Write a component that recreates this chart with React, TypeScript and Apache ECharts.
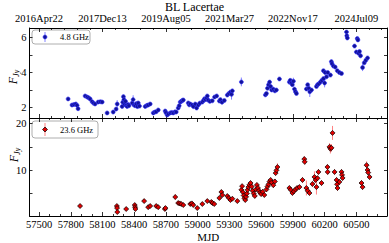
import React, { useEffect, useRef } from "react";
import * as echarts from "echarts";

const FONT = "'Liberation Serif', 'Times New Roman', serif";

// [MJD, flux density (Jy), error]
const band48: [number, number, number][] = [
  [57775, 2.49, 0.06], [57812, 2.14, 0.06], [57830, 2.17, 0.06], [57848, 2.2, 0.06], [57860, 2.12, 0.06], [57869, 1.93, 0.06],
  [57936, 2.66, 0.06], [57955, 2.6, 0.06], [57970, 2.55, 0.06], [57983, 2.49, 0.06], [58002, 2.33, 0.06], [58015, 2.25, 0.06],
  [58030, 2.2, 0.06], [58059, 2.31, 0.06], [58080, 2.33, 0.06], [58097, 2.31, 0.06],
  [58144, 1.69, 0.06], [58201, 1.74, 0.06], [58229, 1.91, 0.08], [58239, 2.2, 0.22],
  [58286, 2.06, 0.06], [58292, 2.3, 0.08], [58298, 2.62, 0.1], [58303, 2.45, 0.08], [58310, 2.17, 0.06], [58318, 2.35, 0.06],
  [58325, 2.12, 0.06], [58333, 2.06, 0.06], [58343, 2.17, 0.06], [58350, 2.1, 0.06],
  [58381, 2.26, 0.06], [58390, 2.45, 0.25], [58398, 2.14, 0.06], [58409, 2.1, 0.06], [58420, 2.22, 0.06], [58430, 2.05, 0.06],
  [58438, 2.26, 0.06], [58450, 2.08, 0.06],
  [58504, 2.06, 0.06], [58520, 2.12, 0.06], [58532, 2.14, 0.06], [58551, 2.2, 0.06],
  [58580, 1.69, 0.06], [58595, 1.74, 0.06], [58608, 1.76, 0.06], [58627, 1.86, 0.06],
  [58693, 1.8, 0.06], [58700, 1.7, 0.06], [58712, 1.57, 0.06], [58722, 1.63, 0.06], [58741, 1.69, 0.06], [58755, 1.72, 0.06],
  [58769, 1.69, 0.06], [58785, 1.75, 0.06], [58797, 1.74, 0.06], [58816, 1.97, 0.06], [58825, 2.1, 0.06], [58835, 2.31, 0.06],
  [58845, 2.35, 0.06], [58854, 2.4, 0.06], [58864, 2.43, 0.06],
  [58911, 2.26, 0.06], [58920, 2.15, 0.06], [58930, 2.2, 0.06], [58949, 2.14, 0.06], [58960, 2.05, 0.06], [58977, 2.2, 0.06],
  [58990, 1.97, 0.06], [59006, 2.14, 0.06], [59020, 2.25, 0.06],
  [59044, 2.31, 0.06], [59055, 2.4, 0.06], [59065, 2.5, 0.06], [59075, 2.45, 0.06], [59085, 2.55, 0.06], [59091, 2.66, 0.06],
  [59100, 2.42, 0.06], [59115, 2.35, 0.06], [59138, 2.38, 0.06], [59160, 2.6, 0.06], [59180, 2.66, 0.06],
  [59205, 2.37, 0.06], [59215, 2.45, 0.06], [59230, 2.3, 0.06], [59252, 2.4, 0.06],
  [59280, 2.71, 0.06], [59295, 2.8, 0.06], [59310, 2.88, 0.06], [59320, 2.75, 0.3], [59328, 2.95, 0.06],
  [59413, 3.46, 0.25],
  [59640, 2.72, 0.06], [59650, 2.8, 0.06], [59660, 3.1, 0.06], [59670, 3.3, 0.06], [59680, 3.45, 0.06], [59690, 3.2, 0.06],
  [59700, 3.0, 0.06], [59715, 3.05, 0.06], [59730, 2.95, 0.06], [59744, 3.0, 0.06], [59773, 3.63, 0.08],
  [59867, 3.45, 0.08], [59875, 3.55, 0.08], [59885, 3.4, 0.08], [59895, 3.3, 0.08], [59905, 3.5, 0.2], [59915, 3.05, 0.08],
  [59925, 2.9, 0.08], [59934, 2.8, 0.08],
  [60028, 3.06, 0.08], [60040, 3.3, 0.08], [60050, 3.1, 0.08], [60060, 2.9, 0.3], [60076, 3.0, 0.08],
  [60123, 3.2, 0.08], [60133, 3.3, 0.08], [60145, 3.35, 0.08], [60160, 3.45, 0.08], [60175, 3.55, 0.08], [60190, 3.65, 0.08],
  [60200, 3.4, 0.25], [60218, 3.75, 0.08], [60189, 4.1, 0.08], [60205, 4.0, 0.08], [60230, 4.0, 0.08], [60255, 3.85, 0.08],
  [60264, 4.62, 0.1], [60270, 4.5, 0.08], [60283, 4.37, 0.08], [60300, 4.31, 0.08], [60320, 4.1, 0.08], [60340, 4.0, 0.08],
  [60360, 3.94, 0.08],
  [60407, 6.31, 0.1], [60410, 6.1, 0.1], [60415, 5.97, 0.1],
  [60483, 5.51, 0.1], [60500, 5.17, 0.1], [60509, 5.94, 0.1], [60515, 5.86, 0.1], [60521, 5.1, 0.1], [60530, 5.2, 0.1],
  [60540, 4.95, 0.1], [60559, 4.28, 0.2], [60575, 4.55, 0.1], [60590, 4.7, 0.1], [60606, 4.83, 0.1],
];

const band236: [number, number, number][] = [
  [57888, 2.34, 0.4],
  [58236, 2.34, 0.4], [58238, 1.9, 0.4], [58240, 1.05, 0.4], [58324, 1.7, 0.4],
  [58405, 2.55, 0.4], [58408, 2.1, 0.4], [58411, 1.7, 0.4], [58494, 3.4, 0.4],
  [58532, 2.1, 0.4], [58551, 2.34, 0.4], [58608, 2.34, 0.4], [58627, 2.1, 0.4], [58690, 1.7, 0.4], [58695, 1.9, 0.4],
  [58788, 4.27, 0.6], [58816, 2.98, 0.4], [58830, 2.9, 0.4], [58845, 2.77, 0.4], [58864, 2.55, 0.4],
  [58930, 2.77, 0.4], [58945, 2.9, 0.4], [58958, 2.55, 0.4], [58996, 1.9, 0.4],
  [59044, 2.77, 0.4], [59091, 3.4, 0.4], [59129, 3.2, 0.4], [59140, 2.98, 0.4], [59157, 2.77, 0.4],
  [59205, 4.06, 0.4], [59224, 5.34, 0.5], [59233, 4.7, 0.4],
  [59280, 4.48, 0.4], [59295, 4.06, 0.4], [59310, 3.63, 0.4], [59328, 3.9, 0.4], [59375, 3.4, 0.4],
  [59413, 5.8, 0.5], [59420, 6.6, 0.5], [59428, 5.3, 0.5], [59435, 4.6, 0.5], [59442, 4.0, 0.5], [59450, 3.63, 0.5],
  [59458, 4.3, 0.5], [59465, 5.0, 0.5], [59472, 5.8, 0.5], [59480, 6.4, 0.5], [59490, 6.9, 0.5], [59500, 7.27, 0.5],
  [59510, 6.5, 0.5], [59520, 5.6, 1.2], [59530, 5.0, 0.5], [59540, 4.5, 0.5], [59550, 5.9, 0.5], [59560, 6.85, 0.5],
  [59570, 6.2, 0.5], [59580, 5.6, 0.5], [59590, 5.2, 0.5], [59600, 4.9, 0.5], [59615, 5.4, 0.5], [59630, 4.7, 0.5],
  [59650, 5.9, 0.5], [59660, 6.5, 0.5], [59670, 7.0, 0.5], [59680, 7.6, 0.5], [59690, 7.92, 0.5], [59700, 7.4, 0.5],
  [59715, 6.8, 0.5], [59730, 7.6, 0.5], [59737, 9.4, 0.5], [59745, 10.0, 0.6], [59754, 10.7, 0.8],
  [59867, 6.2, 0.5], [59880, 5.8, 0.5], [59896, 5.13, 0.5], [59910, 5.5, 0.5], [59925, 5.9, 0.5], [59940, 6.2, 0.5],
  [59962, 6.4, 0.5], [59991, 7.92, 0.6], [60008, 12.4, 0.6], [60012, 11.8, 0.6],
  [60028, 6.2, 1.6], [60040, 5.6, 0.5], [60057, 5.13, 0.5],
  [60085, 7.06, 0.6], [60104, 8.56, 1.2], [60115, 7.92, 0.6], [60123, 6.4, 1.6], [60133, 8.3, 0.6], [60142, 9.64, 0.6],
  [60171, 7.27, 0.6], [60227, 10.7, 0.6], [60229, 9.64, 0.6],
  [60246, 15.0, 0.8], [60255, 14.6, 1.0], [60265, 14.8, 0.8], [60275, 18.0, 1.5],
  [60294, 9.64, 0.6], [60313, 7.92, 0.6], [60318, 7.0, 0.6], [60322, 6.2, 0.6], [60340, 7.5, 0.6],
  [60360, 9.64, 0.6], [60365, 9.0, 0.6], [60370, 8.35, 0.6],
  [60549, 7.27, 0.6], [60559, 6.4, 0.6], [60597, 11.1, 0.8], [60606, 10.06, 0.6], [60612, 9.5, 0.6], [60625, 8.56, 0.6],
];

const dateTickMjd = [57500, 58100, 58700, 59300, 59900, 60500];
const dateTickLabels = ["2016Apr22", "2017Dec13", "2019Aug05", "2021Mar27", "2022Nov17", "2024Jul09"];
const mjdTicks = [57500, 57800, 58100, 58400, 58700, 59000, 59300, 59600, 59900, 60200, 60500];
const topYTicks = [2, 3, 4, 5, 6];
const topYLabels = [2, 4, 6];
const botYTicks = [5, 10, 15, 20];
const botYLabels = [10, 20];

const X_MIN = 57410;
const X_MAX = 60790;

function stepTicks(start: number, step: number, exclude: number[]) {
  const out: number[] = [];
  let v = start;
  while (v - step >= X_MIN) v -= step;
  for (; v <= X_MAX; v += step) if (!exclude.includes(v)) out.push(v);
  return out;
}

const dateMinor = stepTicks(57500, 120, dateTickMjd);
const mjdMinor = stepTicks(57500, 100, mjdTicks);

const tickStyle = { color: "#000", width: 0.8 };

function xAxis(gridIndex: number, position: string, ticks: number[], len: number, showLine: boolean, label?: any, extra?: any) {
  return {
    type: "value",
    gridIndex,
    position,
    min: X_MIN,
    max: X_MAX,
    axisLine: { show: showLine, onZero: false, lineStyle: { color: "#000", width: 1 } },
    axisTick: { show: true, inside: true, length: len, customValues: ticks, lineStyle: tickStyle },
    axisLabel: label || { show: false },
    splitLine: { show: false },
    ...(extra || {}),
  };
}

function yAxis(gridIndex: number, position: string, min: number, max: number, ticks: number[], label?: any) {
  return {
    type: "value",
    gridIndex,
    position,
    min,
    max,
    axisLine: { show: true, onZero: false, lineStyle: { color: "#000", width: 1 } },
    axisTick: { show: true, inside: true, length: 3, customValues: ticks, lineStyle: tickStyle },
    axisLabel: label || { show: false },
    splitLine: { show: false },
  };
}

const yNameRich = {
  i: { fontFamily: FONT, fontStyle: "italic", fontSize: 12, fill: "#000", lineHeight: 14, verticalAlign: "middle" },
  s: { fontFamily: FONT, fontStyle: "italic", fontSize: 8, fill: "#000", lineHeight: 14, verticalAlign: "bottom", padding: [6, 0, 0, 0] },
};

function yNameText(x: number, y: number) {
  return {
    type: "text",
    x,
    y,
    rotation: Math.PI / 2,
    style: { text: "{i|F}{s|Jy}", rich: yNameRich, align: "center", verticalAlign: "middle", fill: "#000" },
  };
}

function errRender(color: string) {
  return (params: any, api: any) => {
    const x = api.value(0);
    const y = api.value(1);
    const e = api.value(2);
    const p1 = api.coord([x, y - e]);
    const p2 = api.coord([x, y + e]);
    return {
      type: "line",
      shape: { x1: p1[0], y1: p1[1], x2: p2[0], y2: p2[1] },
      style: { stroke: color, lineWidth: 0.9 },
    };
  };
}

export default function App() {
  const ref = useRef<HTMLDivElement>(null);
  useEffect(() => {
    if (!ref.current) return;
    const chart = echarts.init(ref.current, undefined, { renderer: "svg" });
    const labelStyle = { fontFamily: FONT, fontSize: 10.5, color: "#000" };
    chart.setOption({
      animation: false,
      backgroundColor: "#fff",
      title: {
        text: "BL Lacertae",
        left: "center",
        top: 1,
        padding: 0,
        textStyle: { fontFamily: FONT, fontSize: 12, fontWeight: "normal", color: "#000" },
      },
      grid: [
        { left: 29.5, right: 2, top: 28, height: 90, outerBoundsMode: "none", containLabel: false },
        { left: 29.5, right: 2, top: 118, height: 98, outerBoundsMode: "none", containLabel: false },
      ],
      xAxis: [
        xAxis(0, "bottom", dateTickMjd, 4, true),
        xAxis(0, "bottom", dateMinor, 2, false),
        xAxis(0, "top", dateTickMjd, 4, true, {
          show: true,
          customValues: dateTickMjd,
          margin: 4,
          ...labelStyle,
          formatter: (v: number) => dateTickLabels[dateTickMjd.indexOf(v)] || "",
        }),
        xAxis(0, "top", dateMinor, 2, false),
        xAxis(1, "bottom", mjdTicks, 4, true, {
          show: true,
          customValues: mjdTicks,
          margin: 3,
          ...labelStyle,
          formatter: (v: number) => String(v),
        }, {
          name: "MJD",
          nameLocation: "middle",
          nameGap: 15,
          nameTextStyle: { fontFamily: FONT, fontSize: 11, color: "#000" },
        }),
        xAxis(1, "bottom", mjdMinor, 2, false),
        xAxis(1, "top", mjdTicks, 4, true),
        xAxis(1, "top", mjdMinor, 2, false),
      ],
      yAxis: [
        yAxis(0, "left", 1.4, 6.54, topYTicks, {
          show: true, customValues: topYLabels, margin: 3, ...labelStyle, hideOverlap: false,
        }),
        yAxis(0, "right", 1.4, 6.54, topYTicks),
        yAxis(1, "left", 0.2, 21.2, botYTicks, {
          show: true, customValues: botYLabels, margin: 3, ...labelStyle, hideOverlap: false,
        }),
        yAxis(1, "right", 0.2, 21.2, botYTicks),
      ],
      series: [
        {
          type: "custom",
          name: "4.8 GHz err",
          xAxisIndex: 0,
          yAxisIndex: 0,
          data: band48,
          encode: { x: 0, y: 1 },
          renderItem: errRender("rgba(70,70,255,0.75)"),
          clip: true,
          z: 2,
        },
        {
          type: "scatter",
          name: "4.8 GHz",
          xAxisIndex: 0,
          yAxisIndex: 0,
          data: band48.map((d) => [d[0], d[1]]),
          symbol: "circle",
          symbolSize: 4,
          itemStyle: { color: "#12129a", borderColor: "#3a3aff", borderWidth: 0.6, opacity: 1 },
          clip: true,
          z: 3,
        },
        {
          type: "custom",
          name: "23.6 GHz err",
          xAxisIndex: 4,
          yAxisIndex: 2,
          data: band236,
          encode: { x: 0, y: 1 },
          renderItem: errRender("rgba(255,90,90,0.85)"),
          clip: true,
          z: 2,
        },
        {
          type: "scatter",
          name: "23.6 GHz",
          xAxisIndex: 4,
          yAxisIndex: 2,
          data: band236.map((d) => [d[0], d[1]]),
          symbol: "diamond",
          symbolSize: 5,
          itemStyle: { color: "#e00000", borderColor: "#000", borderWidth: 0.7, opacity: 1 },
          clip: true,
          z: 3,
        },
      ],
      graphic: [
        yNameText(13, 77),
        yNameText(14, 155),
        {
          type: "group",
          x: 32,
          y: 30,
          children: [
            { type: "rect", shape: { x: 0, y: 0, width: 58, height: 14, r: 3 }, style: { fill: "#fff", stroke: "#999", lineWidth: 0.8 } },
            { type: "line", shape: { x1: 13, y1: 2, x2: 13, y2: 12 }, style: { stroke: "rgba(70,70,255,0.75)", lineWidth: 0.9 } },
            { type: "circle", shape: { cx: 13, cy: 7, r: 2 }, style: { fill: "#12129a", stroke: "#3a3aff", lineWidth: 0.6 } },
            { type: "text", x: 28, y: 7, style: { text: "4.8 GHz", fontFamily: FONT, fontSize: 8.5, fill: "#000", verticalAlign: "middle" } },
          ],
        },
        {
          type: "group",
          x: 32,
          y: 121,
          children: [
            { type: "rect", shape: { x: 0, y: 0, width: 66, height: 17, r: 3 }, style: { fill: "#fff", stroke: "#999", lineWidth: 0.8 } },
            { type: "line", shape: { x1: 13, y1: 2, x2: 13, y2: 15 }, style: { stroke: "rgba(255,90,90,0.85)", lineWidth: 0.9 } },
            { type: "polygon", shape: { points: [[13, 6], [15.5, 8.5], [13, 11], [10.5, 8.5]] }, style: { fill: "#e00000", stroke: "#000", lineWidth: 0.7 } },
            { type: "text", x: 28, y: 8.5, style: { text: "23.6 GHz", fontFamily: FONT, fontSize: 8.5, fill: "#000", verticalAlign: "middle" } },
          ],
        },
      ],
    });
    return () => chart.dispose();
  }, []);
  return <div ref={ref} style={{ width: 389, height: 243, position: "absolute", left: 0, top: 0 }} />;
}
